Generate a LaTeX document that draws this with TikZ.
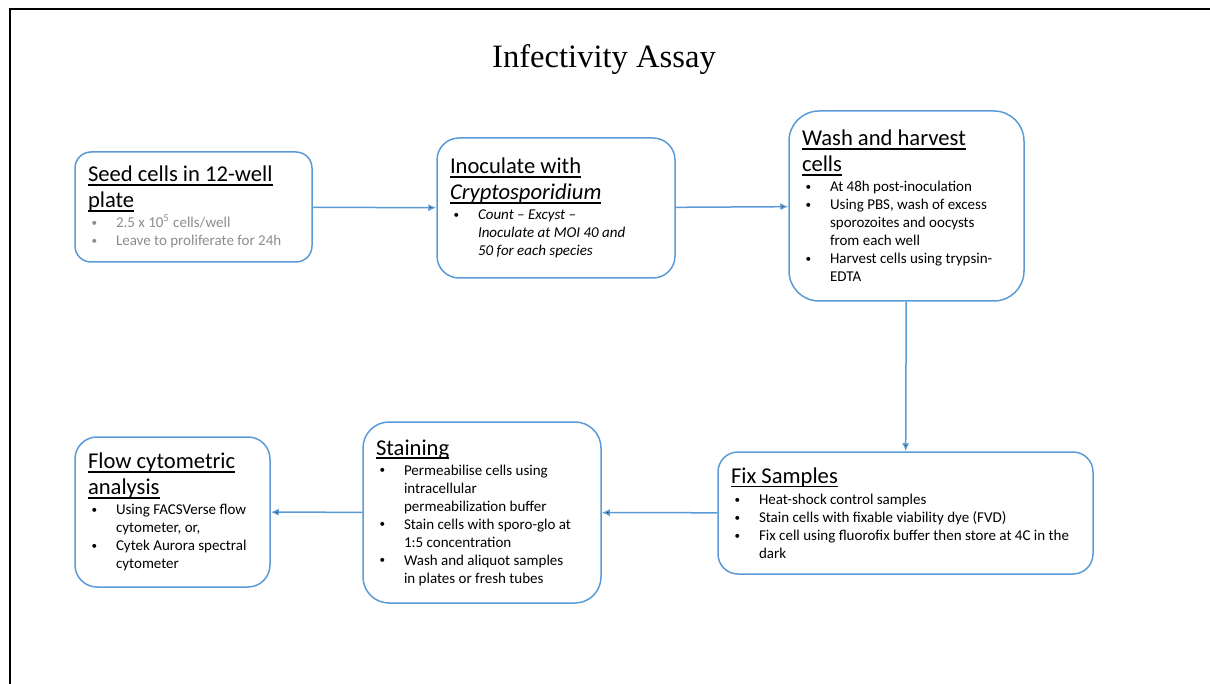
\documentclass[tikz,border=0pt]{standalone}
\usepackage{fontspec}
\setmainfont{Carlito}
\newfontfamily\titlefont{Liberation Serif}
\usetikzlibrary{arrows.meta}
\definecolor{boxblue}{HTML}{5B9BD5}
\definecolor{notegray}{HTML}{8C8C8C}
\newsavebox{\hdbox}
\newcommand{\hdfont}{\fontsize{11.3}{13}\selectfont\spaceskip=0pt\xspaceskip=0pt}
\newcommand{\btfont}{\fontsize{7.5}{9}\selectfont\spaceskip=0pt\xspaceskip=0pt}
\newcommand{\hd}[1]{\leavevmode\sbox{\hdbox}{#1}\rlap{\rule[-2.1pt]{\wd\hdbox}{0.9pt}}\usebox{\hdbox}}
\newcommand{\bl}[1]{\par\hangindent=14pt\hangafter=1\noindent\makebox[14pt][l]{\hspace{1.8pt}\raisebox{0.6pt}{\upshape\fontsize{5.6}{6}\selectfont\textbullet}}#1}

\tikzset{
  stepbox/.style={draw=boxblue, line width=0.75pt, rounded corners=8pt,
    inner xsep=6.5pt, inner ysep=2pt, align=flush left,
    execute at begin node={\setlength{\parindent}{0pt}}},
  link/.style={draw=boxblue, line width=0.75pt, -{Latex[length=4pt,width=3.6pt]}}
}

\begin{document}
\begin{tikzpicture}[x=0.5pt,y=-0.5pt]
  \useasboundingbox (0,0) rectangle (1210,684);
  \draw[line width=1pt] (10,684) -- (10,9) -- (1210,9);
  \node (title) at (604,60) {\titlefont\fontsize{16.3}{19}\selectfont Infectivity Assay};

  \node[stepbox, minimum width=118.5pt, minimum height=55pt, text width=105.5pt] (seed) at (193.5,207)
    {{\hdfont\hd{Seed cells in 12-well}\par\hd{plate}\par}\vspace{1pt}
     {\btfont\color{notegray}\bl{2.5 x 10\textsuperscript{5} cells/well}\bl{Leave to proliferate for 24h}\par}};
  \node[stepbox, minimum width=119pt, minimum height=70pt, text width=106pt, rounded corners=11pt] (inoc) at (556,208)
    {{\hdfont\hd{Inoculate with}\par\hd{\itshape Cryptosporidium}\par}\vspace{1pt}
     {\btfont\itshape\bl{Count -- Excyst --\newline Inoculate at MOI 40 and\newline 50 for each species}\par}};
  \node[stepbox, minimum width=117.5pt, minimum height=95pt, text width=104.5pt, rounded corners=15pt] (wash) at (906.5,206)
    {{\hdfont\hd{Wash and harvest}\par\hd{cells}\par}\vspace{1pt}
     {\btfont\bl{At 48h post-inoculation}\bl{Using PBS, wash of excess\newline sporozoites and oocysts\newline from each well}\bl{Harvest cells using trypsin-\newline EDTA}\par}};
  \node[stepbox, minimum width=187.5pt, minimum height=61pt, text width=174.5pt, rounded corners=10pt] (fix) at (905.5,513)
    {{\hdfont\hd{Fix Samples}\par}\vspace{1.5pt}
     {\btfont\bl{Heat-shock control samples}\bl{Stain cells with fixable viability dye (FVD)}\bl{Fix cell using fluorofix buffer then store at 4C in the\newline dark}\par}};
  \node[stepbox, minimum width=119pt, minimum height=90.5pt, text width=106pt, rounded corners=13pt] (stain) at (482,512.5)
    {{\hdfont\hd{Staining}\par}\vspace{1pt}
     {\btfont\bl{Permeabilise cells using\newline intracellular\newline permeabilization buffer}\bl{Stain cells with sporo-glo at\newline 1:5 concentration}\bl{Wash and aliquot samples\newline in plates or fresh tubes}\par}};
  \node[stepbox, minimum width=97.5pt, minimum height=75pt, text width=84.5pt, rounded corners=11pt] (cyto) at (172.5,512)
    {{\hdfont\hd{Flow cytometric}\par\hd{analysis}\par}\vspace{1pt}
     {\btfont\bl{Using FACSVerse flow\newline cytometer, or,}\bl{Cytek Aurora spectral\newline cytometer}\par}};

  \path[link]
    (seed) edge (inoc)
    (inoc) edge (wash)
    (wash) edge (fix)
    (fix) edge (stain)
    (stain) edge (cyto);
\end{tikzpicture}
\end{document}
